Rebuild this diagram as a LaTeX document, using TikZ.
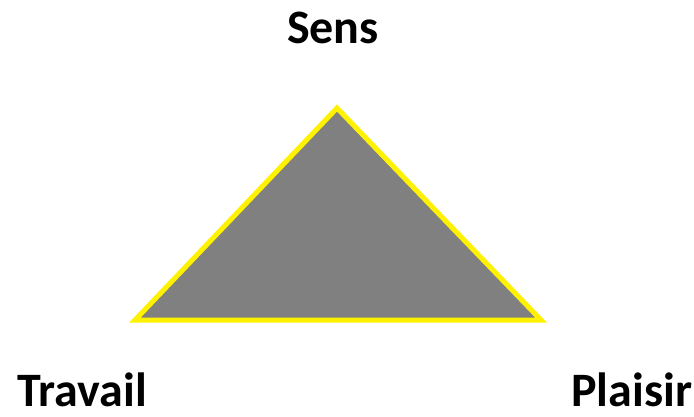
\documentclass[tikz,border=0pt]{standalone}
\usepackage{fontspec}
\setmainfont{Carlito}
\usepackage{tikz}
\usetikzlibrary{positioning}

\begin{document}
\begin{tikzpicture}[
    x=1pt, y=-1pt,
    pole/.style={font=\fontsize{48}{50}\selectfont\bfseries, inner sep=0pt},
    tri/.style={draw=yellow, fill=black!50, line width=5pt, line join=miter}
]
\useasboundingbox (0,0) rectangle (694,416);

\coordinate (top) at (337,108);
\coordinate (left) at (135,320);
\coordinate (right) at (541,320);

\draw[tri] (top) -- (right) -- (left) -- cycle;

\node[pole, anchor=base] (sens) at (333,43) {Sens};
\node[pole, anchor=base west] (travail) at (17,406) {Travail};
\node[pole, anchor=base west] (plaisir) at (571,406) {Plaisir};
\end{tikzpicture}
\end{document}
